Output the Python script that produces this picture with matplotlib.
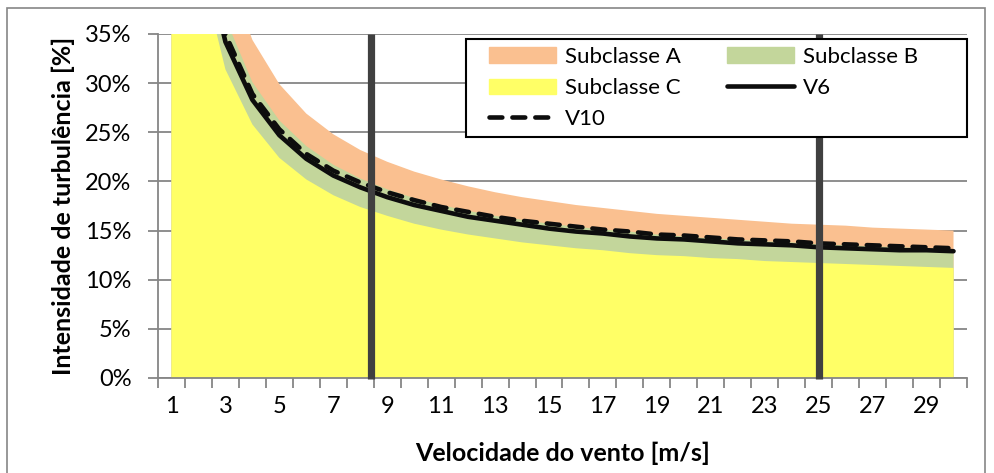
import matplotlib.pyplot as plt
import matplotlib.patches as mpatches
import matplotlib.lines as mlines
from matplotlib.ticker import PercentFormatter

# wind speed categories [m/s]
velocidade = list(range(1, 31))

# turbulence intensity per subclass (fraction)
subclasse_a = [1.016, 0.568, 0.419, 0.344, 0.299, 0.269, 0.248, 0.232, 0.220, 0.210,
               0.202, 0.195, 0.189, 0.184, 0.180, 0.176, 0.173, 0.170, 0.167, 0.165,
               0.163, 0.161, 0.159, 0.157, 0.156, 0.155, 0.153, 0.152, 0.151, 0.150]
subclasse_b = [0.889, 0.497, 0.366, 0.301, 0.262, 0.236, 0.217, 0.203, 0.192, 0.183,
               0.176, 0.170, 0.165, 0.161, 0.157, 0.154, 0.151, 0.149, 0.146, 0.144,
               0.142, 0.141, 0.139, 0.138, 0.136, 0.135, 0.134, 0.133, 0.132, 0.131]
subclasse_c = [0.762, 0.426, 0.314, 0.258, 0.224, 0.202, 0.186, 0.174, 0.165, 0.157,
               0.151, 0.146, 0.142, 0.138, 0.135, 0.132, 0.130, 0.127, 0.125, 0.124,
               0.122, 0.121, 0.119, 0.118, 0.117, 0.116, 0.115, 0.114, 0.113, 0.112]
v6 = [0.815, 0.460, 0.342, 0.283, 0.247, 0.223, 0.206, 0.194, 0.184, 0.176,
      0.170, 0.164, 0.160, 0.156, 0.152, 0.149, 0.147, 0.144, 0.142, 0.141,
      0.139, 0.137, 0.136, 0.135, 0.133, 0.132, 0.131, 0.130, 0.130, 0.129]
v10 = [0.830, 0.470, 0.350, 0.289, 0.253, 0.228, 0.211, 0.199, 0.189, 0.181,
       0.174, 0.169, 0.164, 0.160, 0.157, 0.154, 0.151, 0.149, 0.146, 0.145,
       0.143, 0.141, 0.140, 0.139, 0.137, 0.136, 0.135, 0.134, 0.133, 0.132]

# marker lines (category position)
linhas_verticais = [8.4, 25]

x_labels = [str(v) for v in range(1, 30, 2)]

plt.rcParams['font.family'] = ['Lato', 'DejaVu Sans']
fs_tick = 17
fs_title = 18
fs_leg = 16
cor_a = '#FAC090'
cor_b = '#C3D69B'
cor_c = '#FFFF66'
cinza = '#868686'
preto = '#0D0D0D'
tracos = (2.8, 2.2)

W, H = 994, 473
fig = plt.figure(figsize=(W / 100, H / 100), dpi=100)
ax = fig.add_axes([158 / W, 1 - 378 / H, (967 - 158) / W, (378 - 34) / H])

# chart-area border
fig.patches.append(mpatches.Rectangle((7 / W, -0.05), (985 - 7) / W, 1.05 - 8 / H,
                                      transform=fig.transFigure, fill=False,
                                      edgecolor=cinza, linewidth=1.2))

ax.fill_between(velocidade, subclasse_a, color=cor_a, linewidth=0, zorder=2)
ax.fill_between(velocidade, subclasse_b, color=cor_b, linewidth=0, zorder=2)
ax.fill_between(velocidade, subclasse_c, color=cor_c, linewidth=0, zorder=2)
ax.plot(velocidade, v6, color=preto, lw=3.3, solid_capstyle='round', zorder=3)
ax.plot(velocidade, v10, color=preto, lw=3.3, dashes=tracos,
        dash_capstyle='round', zorder=3)
for xv in linhas_verticais:
    ax.plot([xv, xv], [-0.001, 0.35], color='#404040', lw=5.2, zorder=4,
            solid_capstyle='butt', clip_on=False)

ax.set_xlim(0.5, 30.5)
ax.set_ylim(0, 0.35)
ax.set_yticks([i * 0.05 for i in range(8)])
ax.yaxis.set_major_formatter(PercentFormatter(1.0, decimals=0))
ax.set_xticks([i + 0.5 for i in range(31)])
ax.set_xticklabels([])
ax.set_xticks(list(range(1, 30, 2)), x_labels, minor=True)
ax.tick_params(axis='x', which='major', length=7, width=1.3, color=cinza, direction='out')
ax.tick_params(axis='x', which='minor', length=0, pad=13, labelsize=fs_tick)
ax.tick_params(axis='y', length=7, width=1.3, color=cinza, labelsize=fs_tick, pad=12)

ax.grid(axis='y', color=cinza, linewidth=1.3, zorder=0)
ax.set_axisbelow(True)
for s in ['top', 'right']:
    ax.spines[s].set_visible(False)
for s in ['left', 'bottom']:
    ax.spines[s].set_color(cinza)
    ax.spines[s].set_linewidth(1.3)

ax.set_xlabel('Velocidade do vento [m/s]', fontsize=fs_title, fontweight='bold', labelpad=18)
ax.set_ylabel('Intensidade de turbulência [%]', fontsize=fs_title, fontweight='bold', labelpad=7)

# legend box drawn separately so the padding matches
fig.patches.append(mpatches.Rectangle((466 / W, 1 - 137 / H), (967 - 466) / W, (137 - 39) / H,
                                      transform=fig.transFigure, facecolor='white',
                                      edgecolor='black', linewidth=1.5, zorder=5))
h_a = mpatches.Patch(color=cor_a, label='Subclasse A')
h_b = mpatches.Patch(color=cor_b, label='Subclasse B')
h_c = mpatches.Patch(color=cor_c, label='Subclasse C')
h_v6 = mlines.Line2D([], [], color=preto, lw=3.3, solid_capstyle='round', label='V6')
h_v10 = mlines.Line2D([], [], color=preto, lw=3.3, dashes=tracos,
                      dash_capstyle='round', label='V10')
leg = fig.legend(handles=[h_a, h_c, h_v10, h_b, h_v6], ncol=2, fontsize=fs_leg,
                 loc='upper left', bbox_to_anchor=(489 / W, 1 - 47 / H),
                 borderaxespad=0, borderpad=0, frameon=False,
                 handlelength=3.0, handletextpad=0.4, labelspacing=0.5,
                 columnspacing=2.1)
leg.set_zorder(6)

fig.savefig('out.png', dpi=100)
